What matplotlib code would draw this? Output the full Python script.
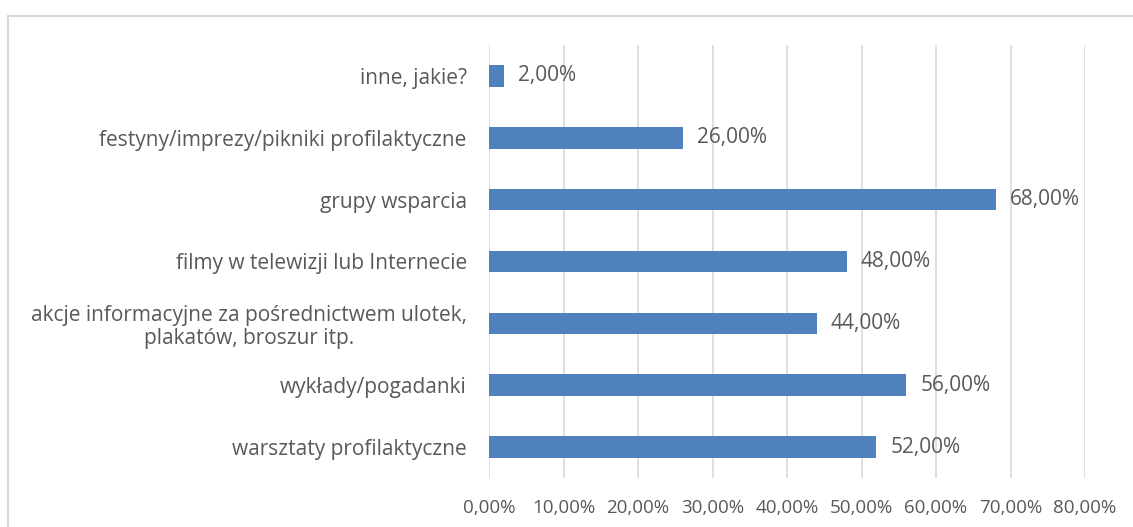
import matplotlib.pyplot as plt
from matplotlib.lines import Line2D

# odpowiedzi i odsetki (od dolu wykresu)
kategorie = ["warsztaty profilaktyczne",
             "wykłady/pogadanki",
             "akcje informacyjne za pośrednictwem ulotek,\nplakatów, broszur itp.",
             "filmy w telewizji lub Internecie",
             "grupy wsparcia",
             "festyny/imprezy/pikniki profilaktyczne",
             "inne, jakie?"]
wartosci = [52, 56, 44, 48, 68, 26, 2]
ticki = [0, 10, 20, 30, 40, 50, 60, 70, 80]

kolor_tekstu = "#595959"
plt.rcParams['font.family'] = ['Open Sans', 'DejaVu Sans']
rozmiar = 15

fig = plt.figure(figsize=(11.33, 5.27), dpi=100)
ax = fig.add_axes([489/1133, 1 - 478/527, (1085 - 489)/1133, (478 - 45)/527])

y = range(len(kategorie))
ax.barh(y, wartosci, height=0.35, color="#4F81BD", zorder=3)
for yi, v in zip(y, wartosci):
    ax.text(v + 1.9, yi, f"{v:.2f}%".replace(".", ","), va="center", ha="left",
            fontsize=rozmiar, color=kolor_tekstu)

ax.set_xlim(0, 80)
ax.set_ylim(-0.5, len(kategorie) - 0.5)
ax.set_xticks(ticks=ticki)
ax.set_xticklabels([f"{t:.2f}%".replace(".", ",") for t in ticki])
ax.set_yticks(list(y))
ax.set_yticklabels(kategorie, ha="right", multialignment="center", linespacing=1.15)
ax.tick_params(axis="y", length=0, pad=16, labelsize=rozmiar, labelcolor=kolor_tekstu)
ax.tick_params(axis="x", length=0, pad=15, labelsize=13.5, labelcolor=kolor_tekstu)
ax.grid(axis="x", color="#D9D9D9", linewidth=1.2, zorder=0)
for s in ax.spines.values():
    s.set_visible(False)

# ramka obszaru wykresu
fig.add_artist(Line2D([8/1133, 1], [1 - 16/527, 1 - 16/527], color="#D9D9D9", lw=1.5))
fig.add_artist(Line2D([8/1133, 8/1133], [0, 1 - 16/527], color="#D9D9D9", lw=1.5))

fig.savefig("out.png", dpi=100)
